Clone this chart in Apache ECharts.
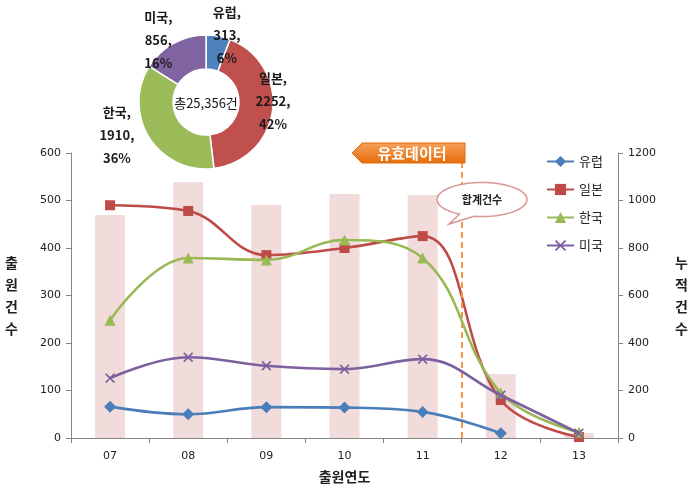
<!DOCTYPE html>
<html><head><meta charset="utf-8">
<script src="https://cdn.jsdelivr.net/npm/echarts@6/dist/echarts.min.js"></script>
<style>html,body{margin:0;padding:0;background:#fff}#c{width:699px;height:496px}</style>
</head><body><div id="c"></div>
<script>
const years = ['07','08','09','10','11','12','13'];
const europe = [66, 50, 65, 64, 55, 10, null];
const japan = [490, 478, 385, 400, 425, 80, 2];
const korea = [248, 379, 375, 417, 379, 95, 12];
const usa = [126, 170, 152, 145, 166, 90, 10];
const totals = [939, 1078, 981, 1027, 1023, 269, 21];
const pieNames = ['유럽', '일본', '한국', '미국'];
const pieValues = [313, 2252, 1910, 856];
const piePct = ['6%', '42%', '36%', '16%'];
const pieTotalText = '총25,356건';
const leftTicks = [0, 600, 100];
const rightTicks = [0, 1200, 200];

const KR = '"Noto Sans CJK KR", "Noto Sans", sans-serif';
const NUM = '"DejaVu Sans", sans-serif';
const lineColors = ['#4A7EBB', '#BE4B48', '#98B954', '#7D60A0'];
const pieColors = ['#4F81BD', '#C0504D', '#9BBB59', '#8064A2'];
const xSym = 'path://M0,1.2 L1.2,0 L5,3.8 L8.8,0 L10,1.2 L6.2,5 L10,8.8 L8.8,10 L5,6.2 L1.2,10 L0,8.8 L3.8,5 Z';

const pieCenter = [206, 102];
// best-fit style label placement: angle (deg, clockwise from top) and distance from the pie centre
const labelAngle = [17.4, 89, 249.7, 322.3];
const labelDist = [70, 67, 95, 78];

// speech bubble outline
const bubble = (function () {
  const cx = 482, cy = 199.5, rx = 45, ry = 17;
  const pts = [];
  const a0 = 100, a1 = 120;
  for (let a = a0; a >= a1 - 360; a -= 4) {
    const r = a * Math.PI / 180;
    pts.push([cx + rx * Math.cos(r), cy + ry * Math.sin(r)]);
  }
  const r1 = a1 * Math.PI / 180;
  pts.push([cx + rx * Math.cos(r1), cy + ry * Math.sin(r1)]);
  pts.push([449, 224]);
  return pts;
})();

const chart = echarts.init(document.getElementById('c'));
function lineSeries(name, data, idx, symbol, size) {
  return {
    name, type: 'line', data, smooth: 0.4, xAxisIndex: 0, yAxisIndex: 0,
    symbol, symbolSize: size, showAllSymbol: true,
    lineStyle: { width: 2.6, color: lineColors[idx] },
    itemStyle: { color: lineColors[idx], borderWidth: 0 },
    z: 3 + idx
  };
}
const axisGray = '#868686';
chart.setOption({
  animation: false,
  textStyle: { fontFamily: KR },
  grid: { left: 71, right: 81, top: 153, bottom: 58 },
  legend: {
    orient: 'vertical', left: 541, top: 150, itemGap: 15, itemWidth: 27, itemHeight: 14,
    textStyle: { fontFamily: KR, fontSize: 13, color: '#222' },
    data: pieNames
  },
  xAxis: [{
    type: 'category', data: years, boundaryGap: true,
    axisLine: { onZero: false, lineStyle: { color: axisGray } },
    axisTick: { show: true, lineStyle: { color: axisGray }, length: 5 },
    axisLabel: { fontFamily: NUM, fontSize: 11, color: '#222', margin: 13 },
    name: '출원연도', nameLocation: 'middle', nameGap: 32,
    nameTextStyle: { fontFamily: KR, fontSize: 14, fontWeight: 'bold', color: '#222' }
  }, {
    type: 'value', min: -0.5, max: 6.5, show: false
  }],
  yAxis: [{
    type: 'value', min: leftTicks[0], max: leftTicks[1], interval: leftTicks[2],
    splitLine: { show: false },
    axisLine: { show: true, onZero: false, lineStyle: { color: axisGray } },
    axisTick: { show: true, lineStyle: { color: axisGray }, length: 5 },
    axisLabel: { fontFamily: NUM, fontSize: 11, color: '#222', margin: 10 },
    name: '출\n원\n건\n수', nameLocation: 'middle', nameGap: 53, nameRotate: 0,
    nameTextStyle: { fontFamily: KR, fontSize: 14, fontWeight: 'bold', color: '#222', lineHeight: 22 }
  }, {
    type: 'value', min: rightTicks[0], max: rightTicks[1], interval: rightTicks[2],
    position: 'right', splitLine: { show: false },
    axisLine: { show: true, onZero: false, lineStyle: { color: axisGray } },
    axisTick: { show: true, lineStyle: { color: axisGray }, length: 5 },
    axisLabel: { fontFamily: NUM, fontSize: 11, color: '#222', margin: 10, formatter: v => String(v) },
    name: '누\n적\n건\n수', nameLocation: 'middle', nameGap: 57, nameRotate: 0,
    nameTextStyle: { fontFamily: KR, fontSize: 14, fontWeight: 'bold', color: '#222', lineHeight: 22 }
  }],
  series: [
    {
      name: '합계', type: 'bar', data: totals, xAxisIndex: 0, yAxisIndex: 1, barWidth: 30,
      itemStyle: { color: '#F2DCDB' }, z: 1
    },
    {
      name: 'divider', type: 'line', data: [], xAxisIndex: 1, yAxisIndex: 0, z: 2,
      markLine: {
        silent: true, symbol: 'none', label: { show: false },
        lineStyle: { color: '#F79646', type: [6, 4], width: 2 },
        data: [{ xAxis: 4.5 }]
      }
    },
    lineSeries('유럽', europe, 0, 'diamond', 12),
    lineSeries('일본', japan, 1, 'rect', 10),
    lineSeries('한국', korea, 2, 'triangle', 11),
    lineSeries('미국', usa, 3, xSym, 10),
    {
      name: 'share', type: 'pie', center: pieCenter, radius: [33, 67],
      startAngle: 90, clockwise: true, z: 10,
      itemStyle: { borderColor: '#fff', borderWidth: 1.5 },
      data: pieNames.map((n, i) => ({ name: n, value: pieValues[i], itemStyle: { color: pieColors[i] } })),
      label: {
        show: true, position: 'outside', fontFamily: KR, fontSize: 13, fontWeight: 'bold', color: '#1a1a1a', lineHeight: 23,
        align: 'center',
        formatter: p => p.name + ',\n' + pieValues[p.dataIndex] + ',\n' + piePct[p.dataIndex]
      },
      labelLine: { show: false, length: 2, length2: 0 },
      labelLayout: p => {
        const i = p.dataIndex, a = labelAngle[i] * Math.PI / 180;
        return {
          x: pieCenter[0] + labelDist[i] * Math.sin(a),
          y: pieCenter[1] - labelDist[i] * Math.cos(a),
          align: 'center', verticalAlign: 'middle'
        };
      },
      emphasis: { disabled: true }
    }
  ],
  graphic: [
    { type: 'text', x: 206, y: 103, style: { text: pieTotalText, font: '13px ' + KR, fill: '#1a1a1a', align: 'center', verticalAlign: 'middle' }, z: 100 },
    {
      type: 'polygon', shape: { points: [[352,153],[362,143],[465,143],[465,163],[362,163]] },
      style: { fill: new echarts.graphic.LinearGradient(0,0,0,1,[{offset:0,color:'#F9A15A'},{offset:1,color:'#E46C0A'}]), stroke: '#E46C0A', lineWidth: 1 }, z: 100
    },
    { type: 'text', x: 412, y: 153, style: { text: '유효데이터', font: 'bold 15px ' + KR, fill: '#fff', align: 'center', verticalAlign: 'middle' }, z: 101 },
    {
      type: 'polygon', shape: { points: bubble },
      style: { fill: '#fff', stroke: '#D99694', lineWidth: 1.5 }, z: 100
    },
    { type: 'text', x: 482, y: 200, style: { text: '합계건수', font: 'bold 11px ' + KR, fill: '#222', align: 'center', verticalAlign: 'middle' }, z: 101 }
  ]
});
</script></body></html>
